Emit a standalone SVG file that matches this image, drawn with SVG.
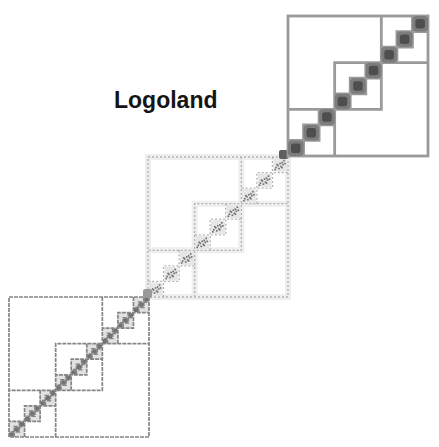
<svg xmlns="http://www.w3.org/2000/svg" width="439" height="447" viewBox="0 0 439 447">
<style>
.c-line{fill:none;stroke:#9a9a9a;stroke-width:2.8}
.c-blob{fill:#7c7c7c}
.c-core{fill:#4e4e4e}
.b-halo{fill:none;stroke:#eeeeee;stroke-width:6}
.b-line{fill:none;stroke:#b2b2b2;stroke-width:1.3;stroke-dasharray:2 2}
.b-smudge{fill:#e6e6e6}
.speck{fill:#6a6a6a}
.a-line{fill:none;stroke:#858585;stroke-width:1.7;stroke-dasharray:4 1}
.a-cell{fill:#e2e2e2}
.a-dot{fill:#727272}
.label{font-family:"Liberation Sans",Arial,sans-serif;font-weight:bold;font-size:23px;fill:#151515}
</style>
<defs>
<g id="blob"><rect class="c-blob" x="0" y="0" width="15.56" height="15.56" rx="4"/><rect class="c-core" x="3" y="3" width="9.5" height="9.5" rx="2.5"/></g>
<g id="cluster">
<rect class="b-smudge" x="-7" y="-7" width="14" height="14" rx="3"/>
<g class="speck">
<rect x="-5" y="2" width="1.6" height="1.6"/><rect x="-3" y="0" width="1.6" height="1.6"/><rect x="-1" y="-2" width="1.6" height="1.6"/><rect x="1" y="-3" width="1.6" height="1.6"/><rect x="3" y="-5" width="1.6" height="1.6"/><rect x="-2" y="3" width="1.6" height="1.6"/><rect x="0" y="1" width="1.6" height="1.6"/><rect x="2" y="-1" width="1.6" height="1.6"/><rect x="4" y="-2" width="1.6" height="1.6"/><rect x="-4" y="-1" width="1.6" height="1.6"/><rect x="1" y="2" width="1.6" height="1.6"/><rect x="-6" y="4" width="1.6" height="1.6"/>
</g>
</g>
</defs>
<rect width="439" height="447" fill="#ffffff"/>

<g id="square-middle">
<rect class="b-halo" x="148" y="157" width="140" height="140"/>
<path class="b-halo" d="M241.33,157 V250.33 H148 M194.67,297 V203.67 H288"/>
<rect class="b-line" x="148" y="157" width="140" height="140"/>
<path class="b-line" d="M241.33,157 V250.33 H148 M194.67,297 V203.67 H288"/>
<path class="b-line" d="M272.44,157 V188.11 H241.33 M256.89,203.67 V172.56 H288 M225.78,203.67 V234.78 H194.67 M210.22,250.33 V219.22 H241.33 M179.11,250.33 V281.44 H148 M163.56,297 V265.89 H194.67"/>
<use href="#cluster" x="155.78" y="289.22"/>
<use href="#cluster" x="171.33" y="273.67"/>
<use href="#cluster" x="186.89" y="258.11"/>
<use href="#cluster" x="202.44" y="242.56"/>
<use href="#cluster" x="218" y="227"/>
<use href="#cluster" x="233.56" y="211.44"/>
<use href="#cluster" x="249.11" y="195.89"/>
<use href="#cluster" x="264.67" y="180.33"/>
<use href="#cluster" x="280.22" y="164.78"/>
<rect x="279" y="150" width="9" height="9" rx="2" fill="#5e5e5e"/>
</g>

<g id="square-top-right">
<rect class="c-line" x="288" y="16" width="140" height="140"/>
<path class="c-line" d="M381.33,16 V109.33 H288 M334.67,156 V62.67 H428"/>
<path class="c-line" d="M412.44,16 V47.11 H381.33 M396.89,62.67 V31.56 H428 M365.78,62.67 V93.78 H334.67 M350.22,109.33 V78.22 H381.33 M319.11,109.33 V140.44 H288 M303.56,156 V124.89 H334.67"/>
<use href="#blob" x="288" y="140.44"/>
<use href="#blob" x="303.56" y="124.89"/>
<use href="#blob" x="319.11" y="109.33"/>
<use href="#blob" x="334.67" y="93.78"/>
<use href="#blob" x="350.22" y="78.22"/>
<use href="#blob" x="365.78" y="62.67"/>
<use href="#blob" x="381.33" y="47.11"/>
<use href="#blob" x="396.89" y="31.56"/>
<use href="#blob" x="412.44" y="16"/>
</g>

<g id="square-bottom-left">
<g class="a-cell">
<rect x="9" y="421.44" width="15.56" height="15.56"/><rect x="24.56" y="405.89" width="15.56" height="15.56"/><rect x="40.11" y="390.33" width="15.56" height="15.56"/><rect x="55.67" y="374.78" width="15.56" height="15.56"/><rect x="71.22" y="359.22" width="15.56" height="15.56"/><rect x="86.78" y="343.67" width="15.56" height="15.56"/><rect x="102.33" y="328.11" width="15.56" height="15.56"/><rect x="117.89" y="312.56" width="15.56" height="15.56"/><rect x="133.44" y="297" width="15.56" height="15.56"/>
</g>
<rect class="a-line" x="9" y="297" width="140" height="140"/>
<path class="a-line" d="M102.33,297 V390.33 H9 M55.67,437 V343.67 H149"/>
<path class="a-line" d="M133.44,297 V328.11 H102.33 M117.89,343.67 V312.56 H149 M86.78,343.67 V374.78 H55.67 M71.22,390.33 V359.22 H102.33 M40.11,390.33 V421.44 H9 M24.56,437 V405.89 H55.67"/>
<path class="a-line" d="M19.37,421.44 V431.81 H9 M14.19,437 V426.63 H24.56 M34.93,405.89 V416.26 H24.56 M29.74,421.44 V411.07 H40.11 M50.48,390.33 V400.7 H40.11 M45.3,405.89 V395.52 H55.67 M66.04,374.78 V385.15 H55.67 M60.85,390.33 V379.96 H71.22 M81.59,359.22 V369.59 H71.22 M76.41,374.78 V364.41 H86.78 M97.15,343.67 V354.04 H86.78 M91.96,359.22 V348.85 H102.33 M112.7,328.11 V338.48 H102.33 M107.52,343.67 V333.3 H117.89 M128.26,312.56 V322.93 H117.89 M123.07,328.11 V317.74 H133.44 M143.81,297 V307.37 H133.44 M138.63,312.56 V302.19 H149"/>
<path class="a-dot" d="M9.6,432.4h4v4h-4z M14.8,427.2h4v4h-4z M20,422h4v4h-4z M25.2,416.9h4v4h-4z M30.3,411.7h4v4h-4z M35.5,406.5h4v4h-4z M40.7,401.3h4v4h-4z M45.9,396.1h4v4h-4z M51.1,390.9h4v4h-4z M56.3,385.8h4v4h-4z M61.5,380.6h4v4h-4z M66.6,375.4h4v4h-4z M71.8,370.2h4v4h-4z M77,365h4v4h-4z M82.2,359.8h4v4h-4z M87.4,354.6h4v4h-4z M92.6,349.5h4v4h-4z M97.8,344.3h4v4h-4z M102.9,339.1h4v4h-4z M108.1,333.9h4v4h-4z M113.3,328.7h4v4h-4z M118.5,323.5h4v4h-4z M123.7,318.3h4v4h-4z M128.9,313.2h4v4h-4z M134,308h4v4h-4z M139.2,302.8h4v4h-4z M144.4,297.6h4v4h-4z"/>
<rect x="143" y="289" width="9" height="9" rx="2" fill="#9a9a9a"/>
</g>

<g id="title">
<text class="label" x="114" y="107.5">Logoland</text>
</g>
</svg>
